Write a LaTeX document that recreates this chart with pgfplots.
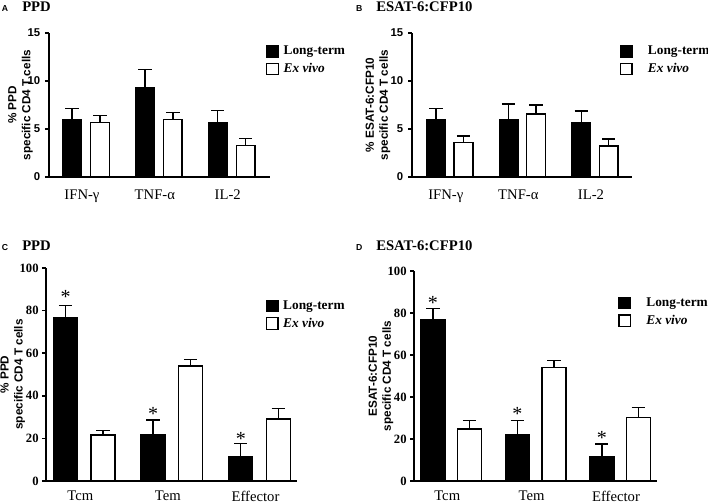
\documentclass[border=0pt]{standalone}
\usepackage{fontspec}
\setmainfont{Liberation Serif}
\newfontfamily\arialf{Liberation Sans}
\usepackage{pgfplots}
\pgfplotsset{compat=1.18}
\pgfplotsset{
  panel/.style={
    scale only axis, anchor=south west,
    axis x line=bottom, axis y line=left,
    axis line style={line width=1.2pt, -},
    ymin=0, xtick={0,1,2},
    x tick style={draw=none},
    y tick style={line width=1.1pt, black},
    tick align=outside, major tick length=3pt,
    xticklabel style={font=\fontsize{11}{13}\selectfont, xshift=-3pt, yshift=-3pt},
    every axis y label/.style={rotate=90, anchor=center},
    ylabel style={font=\arialf\bfseries\fontsize{8.8}{10.5}\selectfont, align=center},
    clip=false,
    legend style={draw=none, fill=none, anchor=north west, inner sep=0pt,
      font=\bfseries\fontsize{10}{12}\selectfont, row sep=1pt},
    legend cell align=left,
    legend image code/.code={\draw[##1, line width=0.9pt] (0pt,-4.3pt) rectangle (8.6pt,4.3pt);},
    /pgf/number format/assume math mode=true,
  },
  errstyle/.style={
    error bars/y dir=plus, error bars/y explicit,
    error bars/error bar style={line width=1.1pt, black},
    error bars/error mark options={rotate=90, line width=1.1pt, black, mark size=5pt}},
  ltbar/.style={ybar, bar shift=0pt, fill=black, draw=black, line width=1.1pt, forget plot, errstyle},
  evbar/.style={ybar, bar shift=0pt, fill=white, draw=black, line width=1.1pt, forget plot, errstyle},
  star/.style={only marks, mark=text, text mark={\fontsize{15}{15}\selectfont *}, forget plot},
}
\begin{document}
\begin{tikzpicture}
\useasboundingbox (0,0) rectangle (531pt,378pt);
% titles
\node[anchor=base west, inner sep=0, font=\arialf\bfseries\fontsize{6.5}{7}\selectfont] at (1.3pt,369.4pt) {A};
\node[anchor=base west, inner sep=0, font=\bfseries\fontsize{11}{13}\selectfont] at (16.5pt,369.4pt) {PPD};
\node[anchor=base west, inner sep=0, font=\arialf\bfseries\fontsize{6.5}{7}\selectfont] at (266.8pt,369.4pt) {B};
\node[anchor=base west, inner sep=0, font=\bfseries\fontsize{11}{13}\selectfont] at (282pt,369.4pt) {ESAT-6:CFP10};
\node[anchor=base west, inner sep=0, font=\arialf\bfseries\fontsize{6.5}{7}\selectfont] at (1.3pt,189.8pt) {C};
\node[anchor=base west, inner sep=0, font=\bfseries\fontsize{11}{13}\selectfont] at (16.5pt,189.8pt) {PPD};
\node[anchor=base west, inner sep=0, font=\arialf\bfseries\fontsize{6.5}{7}\selectfont] at (266.8pt,189.8pt) {D};
\node[anchor=base west, inner sep=0, font=\bfseries\fontsize{11}{13}\selectfont] at (282pt,189.8pt) {ESAT-6:CFP10};

% ---------- A ----------
\begin{axis}[panel, at={(36.75pt,245.25pt)}, width=165.75pt, height=108pt,
  xmin=-0.5075, xmax=2.525, ymax=15, ytick={0,5,10,15},
  yticklabel style={font=\arialf\bfseries\fontsize{8.5}{10}\selectfont},
  xticklabels={IFN-γ,TNF-α,IL-2},
  ylabel={\% PPD\\specific CD4 T cells},
  ylabel style={at={(axis description cs:-0.129,0.5)}},
  legend style={at={(axis description cs:0.982,0.931)}, /tikz/every odd column/.style={column sep=1.5pt}}]
\addlegendimage{fill=black, draw=black}
\addlegendentry{Long-term}
\addlegendimage{fill=white, draw=black}
\addlegendentry{\textit{Ex vivo}}
\addplot[ltbar, bar width=14pt] coordinates {(-0.192,6.0) +- (0,1.15) (0.808,9.3) +- (0,1.9) (1.808,5.7) +- (0,1.2)};
\addplot[evbar, bar width=14pt] coordinates {(0.192,5.7) +- (0,0.7) (1.192,6.0) +- (0,0.7) (2.192,3.3) +- (0,0.7)};
\end{axis}

% ---------- B ----------
\begin{axis}[panel, at={(309pt,245.25pt)}, width=165pt, height=108pt,
  xmin=-0.52, xmax=2.51, ymax=15, ytick={0,5,10,15},
  yticklabel style={font=\arialf\bfseries\fontsize{8.5}{10}\selectfont},
  xticklabels={IFN-γ,TNF-α,IL-2},
  ylabel={\% ESAT-6:CFP10\\specific CD4 T cells},
  ylabel style={at={(axis description cs:-0.1545,0.5)}},
  legend style={at={(axis description cs:0.944,0.931)}, /tikz/every odd column/.style={column sep=9.5pt}}]
\addlegendimage{fill=black, draw=black}
\addlegendentry{Long-term}
\addlegendimage{fill=white, draw=black}
\addlegendentry{\textit{Ex vivo}}
\addplot[ltbar, bar width=14pt] coordinates {(-0.189,6.0) +- (0,1.15) (0.811,5.93) +- (0,1.66) (1.811,5.66) +- (0,1.2)};
\addplot[evbar, bar width=14pt] coordinates {(0.189,3.6) +- (0,0.65) (1.189,6.55) +- (0,0.93) (2.189,3.25) +- (0,0.72)};
\end{axis}

% ---------- C ----------
\begin{axis}[panel, at={(34.5pt,17.25pt)}, width=188.25pt, height=159.75pt,
  xmin=-0.437, xmax=2.428, ymax=100, ytick={0,20,40,60,80,100},
  yticklabel style={font=\bfseries\fontsize{9.5}{11}\selectfont, xshift=1pt},
  xticklabels={Tcm,Tem,Effector}, xticklabel style={yshift=1.8pt},
  ylabel={\% PPD\\specific CD4 T cells},
  ylabel style={at={(axis description cs:-0.132,0.5)}},
  legend style={at={(axis description cs:0.875,0.861)}, /tikz/every odd column/.style={column sep=1.5pt}}]
\addlegendimage{fill=black, draw=black}
\addlegendentry{Long-term}
\addlegendimage{fill=white, draw=black}
\addlegendentry{\textit{Ex vivo}}
\addplot[ltbar, bar width=18pt] coordinates {(-0.214,76.8) +- (0,5.5) (0.786,21.9) +- (0,6.7) (1.786,11.4) +- (0,6.1)};
\addplot[evbar, bar width=18pt] coordinates {(0.214,21.6) +- (0,2.2) (1.214,54.0) +- (0,3.1) (2.214,29.0) +- (0,5.1)};
\addplot[star] coordinates {(-0.214,86.6) (0.786,31.4) (1.786,19.6)};
\end{axis}

% ---------- D ----------
\begin{axis}[panel, at={(310.5pt,17.25pt)}, width=182.25pt, height=157.5pt,
  xmin=-0.441, xmax=2.438, ymax=100, ytick={0,20,40,60,80,100},
  yticklabel style={font=\bfseries\fontsize{9.5}{11}\selectfont, xshift=1pt},
  xticklabels={Tcm,Tem,Effector}, xticklabel style={yshift=1.8pt},
  ylabel={ESAT-6:CFP10\\specific CD4 T cells},
  ylabel style={at={(axis description cs:-0.136,0.5)}},
  legend style={at={(axis description cs:0.84,0.887)}, /tikz/every odd column/.style={column sep=9.5pt}}]
\addlegendimage{fill=black, draw=black}
\addlegendentry{Long-term}
\addlegendimage{fill=white, draw=black}
\addlegendentry{\textit{Ex vivo}}
\addplot[ltbar, bar width=18pt] coordinates {(-0.216,77.0) +- (0,5.2) (0.784,22.2) +- (0,6.5) (1.784,11.6) +- (0,6.0)};
\addplot[evbar, bar width=18pt] coordinates {(0.216,24.8) +- (0,3.9) (1.216,54.1) +- (0,3.2) (2.216,30.2) +- (0,4.7)};
\addplot[star] coordinates {(-0.216,84.8) (0.784,31.8) (1.784,20.6)};
\end{axis}
\end{tikzpicture}
\end{document}
